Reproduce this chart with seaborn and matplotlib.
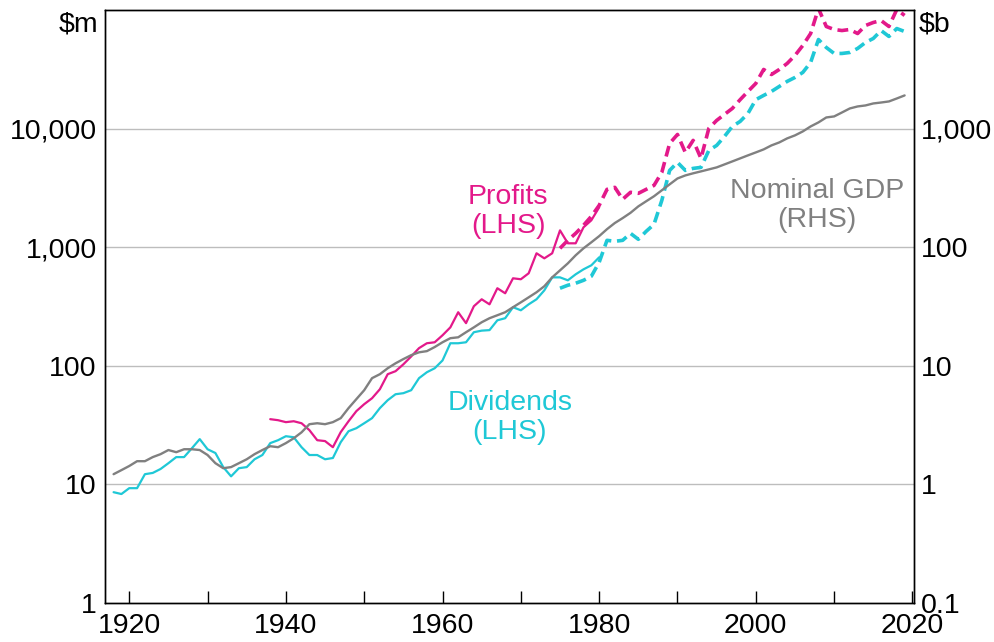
import numpy as np
import pandas as pd
import matplotlib.pyplot as plt
import matplotlib.ticker as mticker
import seaborn as sns

# colours
pink = "#E3198A"
cyan = "#1FC8D6"
grey = "#808080"

# nominal GDP, $b (RHS)
gdp_years = list(range(1918, 2020))
gdp = [1.22, 1.32, 1.43, 1.57, 1.57, 1.70, 1.80, 1.95, 1.87, 1.98,
       1.98, 1.95, 1.77, 1.51, 1.37, 1.40, 1.51, 1.63, 1.80, 1.95,
       2.10, 2.06, 2.23, 2.45, 2.75, 3.22, 3.28, 3.22, 3.35, 3.62,
       4.40, 5.24, 6.23, 7.87, 8.50, 9.54, 10.5, 11.4, 12.3, 13.0,
       13.3, 14.4, 15.8, 17.1, 17.4, 19.2, 21.1, 23.3, 25.2, 26.7,
       28.3, 31.2, 34.3, 37.8, 41.7, 46.9, 55.7, 63.8, 73.1, 85.5,
       97.9, 110, 124, 142, 160, 176, 195, 221, 244, 269,
       302, 339, 380, 403, 420, 436, 453, 471, 499, 529,
       561, 595, 630, 668, 722, 765, 827, 877, 947, 1043,
       1128, 1242, 1267, 1368, 1479, 1538, 1568, 1630, 1660, 1695,
       1795, 1905]

# dividends, $m (LHS) - old series
div_old_years = list(range(1918, 1981))
div_old = [8.6, 8.3, 9.3, 9.3, 12.2, 12.5, 13.5, 15.1, 17.0, 17.0,
           20.2, 24.1, 19.8, 18.4, 14.0, 11.7, 13.7, 14.0, 16.3, 17.7,
           22.3, 23.6, 25.5, 25.0, 20.6, 17.7, 17.7, 16.3, 16.7, 22.7,
           28.1, 29.8, 32.8, 36.2, 44.0, 51.3, 57.6, 58.8, 62.3, 78.7,
           88.3, 95.4, 111, 155, 155, 158, 192, 198, 200, 242,
           252, 312, 294, 330, 364, 433, 557, 557, 526, 591,
           651, 704, 822]

# dividends, $m (LHS) - new series
div_new_years = list(range(1975, 2020))
div_new = [451, 478, 497, 526, 569, 746, 1143, 1122, 1143, 1309,
           1166, 1361, 1559, 2484, 4446, 5190, 4446, 4620, 4712, 6550,
           7215, 8590, 10430, 11500, 13430, 17540, 19050, 20580, 22680, 25000,
           27000, 29770, 36130, 56400, 48300, 43030, 43030, 43860, 47420, 53250,
           57560, 67140, 59840, 69800, 65900]

# profits, $m (LHS) - old series
prof_old_years = list(range(1938, 1981))
prof_old = [35.5, 34.8, 33.5, 34.1, 32.8, 28.7, 23.6, 23.2, 20.6, 27.6,
            34.1, 41.5, 47.5, 53.3, 63.5, 85.0, 90.1, 103, 120, 141,
            155, 158, 181, 211, 283, 229, 318, 364, 330, 451,
            409, 547, 537, 603, 889, 806, 889, 1387, 1079, 1079,
            1472, 1686, 2169]

# profits, $m (LHS) - new series
prof_new_years = list(range(1975, 2020))
prof_new = [979, 1143, 1309, 1530, 1821, 2253, 3074, 3197, 2535, 2904,
            2846, 3074, 3320, 4277, 7500, 8930, 6300, 7960, 5610, 10040,
            11720, 13180, 14790, 17540, 20580, 24040, 31530, 28590, 31530, 35420,
            41370, 50230, 63340, 103000, 72600, 68500, 67140, 68500, 63340, 74000,
            78500, 81500, 72600, 101000, 90000]

left_ticks = [1, 10, 100, 1000, 10000]
right_ticks = [0.1, 1, 10, 100, 1000]

sns.set_theme(style="white")
plt.rcParams['font.family'] = ['Liberation Sans', 'DejaVu Sans']
plt.rcParams['font.size'] = 20.5
plt.rcParams['text.color'] = "black"
plt.rcParams['xtick.color'] = "black"
plt.rcParams['ytick.color'] = "black"
plt.rcParams['xtick.labelcolor'] = "black"
plt.rcParams['ytick.labelcolor'] = "black"

fig, ax = plt.subplots(figsize=(9.95, 6.42), dpi=100)
fig.subplots_adjust(left=0.1055, right=0.9186, top=0.9844, bottom=0.0607)
ax2 = ax.twinx()

ax.set_yscale("log")
ax2.set_yscale("log")
ax.set_ylim(1, 100000)
ax2.set_ylim(0.1, 10000)
ax.set_xlim(1916.9, 2020.2)

# gridlines (left scale)
for v in left_ticks[1:]:
    ax.axhline(v, color="#BDBDBD", lw=1.0, zorder=0)

sns.lineplot(x=gdp_years, y=gdp, ax=ax2, color=grey, lw=1.7)

sns.lineplot(x=div_old_years, y=div_old, ax=ax, color=cyan, lw=1.6)
sns.lineplot(x=prof_old_years, y=prof_old, ax=ax, color=pink, lw=1.6)
sns.lineplot(x=div_new_years, y=div_new, ax=ax, color=cyan, lw=2.6)
ax.lines[-1].set_linestyle((0, (3.0, 1.6)))
sns.lineplot(x=prof_new_years, y=prof_new, ax=ax, color=pink, lw=2.6)
ax.lines[-1].set_linestyle((0, (3.0, 1.6)))

# y axes
ax.yaxis.set_major_locator(mticker.FixedLocator(left_ticks))
ax.yaxis.set_major_formatter(mticker.FixedFormatter([f"{v:,}" for v in left_ticks]))
ax.yaxis.set_minor_locator(mticker.NullLocator())
ax2.yaxis.set_major_locator(mticker.FixedLocator(right_ticks))
ax2.yaxis.set_major_formatter(mticker.FixedFormatter(["0.1", "1", "10", "100", "1,000"]))
ax2.yaxis.set_minor_locator(mticker.NullLocator())
ax.tick_params(axis="y", length=0, pad=6, labelsize=20.5, labelcolor="black")
ax2.tick_params(axis="y", length=0, pad=5, labelsize=20.5, labelcolor="black")

# x axis
ax.xaxis.set_major_locator(mticker.MultipleLocator(10))
ax.xaxis.set_major_formatter(mticker.FuncFormatter(
    lambda v, _: f"{int(round(v))}" if int(round(v)) % 20 == 0 else ""))
ax.tick_params(axis="x", direction="in", length=8.5, width=1.0, color="black",
               labelcolor="black", bottom=True, top=False, pad=7, labelsize=20.5)
ax.set_xlabel("")
ax.set_ylabel("")
ax2.set_ylabel("")

for a in (ax, ax2):
    for s in a.spines.values():
        s.set_color("black")
        s.set_linewidth(1.0)

ax.text(-0.008, 0.975, "$m", transform=ax.transAxes, ha="right", va="center",
        fontsize=20.5, color="black")
ax.text(1.006, 0.975, "$b", transform=ax.transAxes, ha="left", va="center",
        fontsize=20.5, color="black")

ax.text(1968.4, 2005, "Profits\n(LHS)", color=pink, ha="center", va="center",
        fontsize=20.5, linespacing=1.15)
ax.text(1968.6, 36.5, "Dividends\n(LHS)", color=cyan, ha="center", va="center",
        fontsize=20.5, linespacing=1.15)
ax.text(2007.8, 2254, "Nominal GDP\n(RHS)", color=grey, ha="center", va="center",
        fontsize=20.5, linespacing=1.15)

plt.savefig("out.png", dpi=100)
